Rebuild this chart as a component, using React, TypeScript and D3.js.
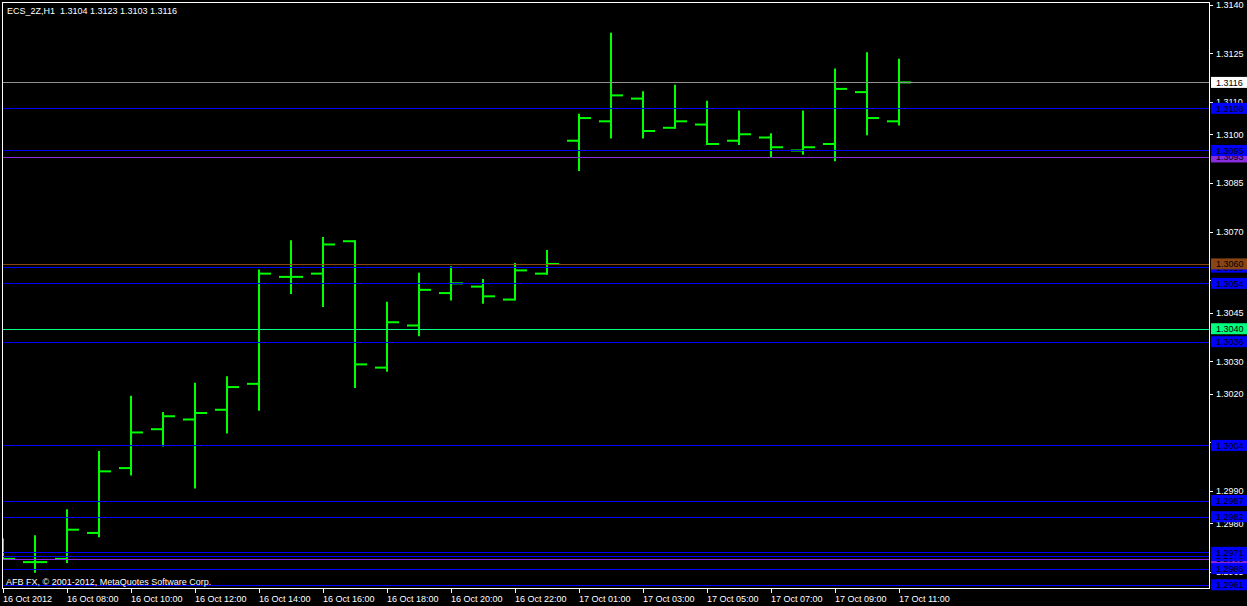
import React from "react";
import * as d3 from "d3";

// Hourly bars, ECS_2Z H1
const categories = [
  "16 Oct 06:00", "16 Oct 07:00", "16 Oct 08:00", "16 Oct 09:00", "16 Oct 10:00",
  "16 Oct 11:00", "16 Oct 12:00", "16 Oct 13:00", "16 Oct 14:00", "16 Oct 15:00",
  "16 Oct 16:00", "16 Oct 17:00", "16 Oct 18:00", "16 Oct 19:00", "16 Oct 20:00",
  "16 Oct 21:00", "16 Oct 22:00", "16 Oct 23:00", "17 Oct 01:00", "17 Oct 02:00",
  "17 Oct 03:00", "17 Oct 04:00", "17 Oct 05:00", "17 Oct 06:00", "17 Oct 07:00",
  "17 Oct 08:00", "17 Oct 09:00", "17 Oct 10:00", "17 Oct 11:00",
];

const opens = [
  1.2972, 1.2968, 1.2969, 1.2977, 1.2997, 1.3009, 1.3012, 1.3015, 1.3023, 1.3056,
  1.3057, 1.3067, 1.3028, 1.3041, 1.3051, 1.3053, 1.3049, 1.3057, 1.3098, 1.3104,
  1.3111, 1.3102, 1.3103, 1.3098, 1.3099, 1.3095, 1.3097, 1.3113, 1.3104,
];
const highs = [
  1.2975, 1.2976, 1.2984, 1.3002, 1.3019, 1.3014, 1.3023, 1.3025, 1.3058, 1.3067,
  1.3068, 1.3067, 1.3048, 1.3057, 1.3059, 1.3055, 1.3060, 1.3064, 1.3106, 1.3131,
  1.3113, 1.3115, 1.3110, 1.3107, 1.3100, 1.3107, 1.3120, 1.3125, 1.3123,
];
const lows = [
  1.2969, 1.2965, 1.2968, 1.2976, 1.2995, 1.3004, 1.2991, 1.3008, 1.3015, 1.3051,
  1.3047, 1.3022, 1.3027, 1.3038, 1.3049, 1.3048, 1.3049, 1.3057, 1.3089, 1.3099,
  1.3099, 1.3102, 1.3097, 1.3097, 1.3093, 1.3094, 1.3092, 1.3100, 1.3103,
];
const closes = [
  1.2969, 1.2968, 1.2978, 1.2996, 1.3008, 1.3013, 1.3014, 1.3022, 1.3057, 1.3056,
  1.3066, 1.3029, 1.3042, 1.3052, 1.3054, 1.3050, 1.3058, 1.3060, 1.3105, 1.3112,
  1.3101, 1.3104, 1.3097, 1.3100, 1.3096, 1.3096, 1.3114, 1.3105, 1.3116,
];

// Price axis ticks
const priceTicks = [
  1.3140, 1.3125, 1.3110, 1.3100, 1.3085, 1.3070, 1.3055,
  1.3045, 1.3030, 1.3020, 1.3005, 1.2990, 1.2980, 1.2965,
];

// Time axis ticks: bar they sit on, and the text shown
const timeTickBars = [
  "16 Oct 06:00", "16 Oct 08:00", "16 Oct 10:00", "16 Oct 12:00", "16 Oct 14:00",
  "16 Oct 16:00", "16 Oct 18:00", "16 Oct 20:00", "16 Oct 22:00", "17 Oct 01:00",
  "17 Oct 03:00", "17 Oct 05:00", "17 Oct 07:00", "17 Oct 09:00", "17 Oct 11:00",
];
const timeTickLabels = [
  "16 Oct 2012", "16 Oct 08:00", "16 Oct 10:00", "16 Oct 12:00", "16 Oct 14:00",
  "16 Oct 16:00", "16 Oct 18:00", "16 Oct 20:00", "16 Oct 22:00", "17 Oct 01:00",
  "17 Oct 03:00", "17 Oct 05:00", "17 Oct 07:00", "17 Oct 09:00", "17 Oct 11:00",
];

// Horizontal levels, in drawing order (later ones sit on top)
const levelPrices = [
  1.3093, 1.2969, 1.2970, 1.3059, 1.3116, 1.3108, 1.3095, 1.3060, 1.3054,
  1.3040, 1.3036, 1.3004, 1.2987, 1.2982, 1.2971, 1.2966, 1.2961,
];
const levelKinds = [
  "purple", "purple", "blue", "blue", "bid", "blue", "blue", "brown", "blue",
  "green", "blue", "blue", "blue", "blue", "blue", "blue", "blue",
];

const title = "ECS_2Z,H1  1.3104 1.3123 1.3103 1.3116";
const copyright = "AFB FX, \u00A9 2001-2012, MetaQuotes Software Corp.";

const W = 1247;
const H = 606;
const plot = { left: 3, top: 3, right: 1209, bottom: 589 };
const FONT = "'Liberation Sans', Arial, sans-serif";

const levelStyle: Record<string, { line: string; box: string }> = {
  blue: { line: "#0000ff", box: "#0000ff" },
  purple: { line: "#8a2be2", box: "#8a2be2" },
  brown: { line: "#8b4513", box: "#8b4513" },
  green: { line: "#00ff7f", box: "#00ff7f" },
  bid: { line: "#909090", box: "#ffffff" },
};

export default function App() {
  const x = d3
    .scaleBand<string>()
    .domain(categories)
    .range([plot.left - 16, plot.left - 16 + 32 * categories.length])
    .paddingInner(0)
    .paddingOuter(0);
  const cx = (c: string) => (x(c) as number) + x.bandwidth() / 2;

  const y = d3.scaleLinear().domain([1.29597, 1.31405]).range([plot.bottom, plot.top]);
  const fmt = d3.format(".4f");

  const bars = categories.map((c, i) => ({
    c,
    o: opens[i],
    h: highs[i],
    l: lows[i],
    cl: closes[i],
  }));

  return (
    <svg
      width={W}
      height={H}
      style={{ position: "absolute", left: 0, top: 0, display: "block" }}
      fontFamily={FONT}
    >
      <defs>
        <clipPath id="plotClip">
          <rect
            x={plot.left}
            y={plot.top}
            width={plot.right - plot.left}
            height={plot.bottom - plot.top}
          />
        </clipPath>
      </defs>
      <rect x={0} y={0} width={W} height={H} fill="#000" />

      <g clipPath="url(#plotClip)">
        {/* OHLC bars */}
        {bars.map((b) => {
          const px = cx(b.c);
          return (
            <g key={b.c} stroke="#00ff00" strokeWidth={2}>
              <line x1={px} x2={px} y1={y(b.h) - 1} y2={y(b.l) + 1} />
              <line x1={px - 12} x2={px} y1={y(b.o)} y2={y(b.o)} />
              <line x1={px} x2={px + 12} y1={y(b.cl)} y2={y(b.cl)} />
            </g>
          );
        })}

        {/* level lines */}
        {levelPrices.map((p, i) => (
          <line
            key={"l" + i}
            x1={plot.left}
            x2={plot.right}
            y1={Math.round(y(p)) + 0.5}
            y2={Math.round(y(p)) + 0.5}
            stroke={levelStyle[levelKinds[i]].line}
            strokeWidth={1}
          />
        ))}
      </g>

      {/* frame */}
      <rect
        x={plot.left - 0.5}
        y={plot.top - 0.5}
        width={plot.right - plot.left + 1}
        height={plot.bottom - plot.top}
        fill="none"
        stroke="#fff"
        strokeWidth={1}
      />

      {/* price axis */}
      {priceTicks.map((t) => (
        <g key={"t" + t}>
          <line
            x1={plot.right}
            x2={plot.right + 4}
            y1={Math.round(y(t)) + 0.5}
            y2={Math.round(y(t)) + 0.5}
            stroke="#fff"
          />
          <text x={1216} y={y(t) + 3.5} fontSize={9} fill="#fff">
            {fmt(t)}
          </text>
        </g>
      ))}

      {/* level price boxes */}
      {levelPrices.map((p, i) => (
        <g key={"b" + i}>
          <rect
            x={plot.right + 2}
            y={y(p) - 5.5}
            width={W - plot.right - 2}
            height={11}
            fill={levelStyle[levelKinds[i]].box}
          />
          <text x={1216} y={y(p) + 3.5} fontSize={9} fill="#000">
            {fmt(p)}
          </text>
        </g>
      ))}

      {/* time axis */}
      {timeTickBars.map((c, i) => {
        const px = Math.round(cx(c)) + 0.5;
        return (
          <g key={"x" + c}>
            <line x1={px} x2={px} y1={plot.bottom} y2={plot.bottom + 4} stroke="#fff" />
            <text x={px - 0.5} y={602} fontSize={9} fill="#fff">
              {timeTickLabels[i]}
            </text>
          </g>
        );
      })}

      <text x={7} y={14} fontSize={9} fill="#fff" style={{ whiteSpace: "pre" }}>
        {title}
      </text>
      <text x={6} y={585} fontSize={9} fill="#fff">
        {copyright}
      </text>
    </svg>
  );
}
